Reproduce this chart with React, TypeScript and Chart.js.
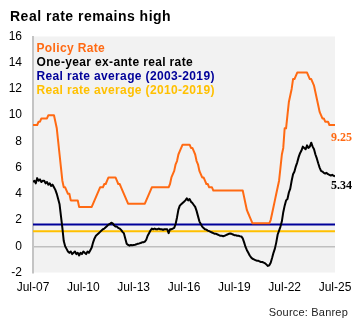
import React, { useEffect, useRef } from 'react';
import { Chart, registerables } from 'chart.js';

Chart.register(...registerables);

// ---- data (monthly, Jul-07 = month 0 ... Jul-25 = month 216) ----
const titleText = 'Real rate remains high';
const sourceText = 'Source: Banrep';
const xTickLabels = ['Jul-07', 'Jul-10', 'Jul-13', 'Jul-16', 'Jul-19', 'Jul-22', 'Jul-25'];
const monthsPerTick = 36;
const lastMonth = 216;
const yTicksMin = -2;
const yTicksMax = 16;
const yStep = 2;

const seriesNames = [
  'Policy Rate',
  'One-year ex-ante real rate',
  'Real rate average (2003-2019)',
  'Real rate average (2010-2019)',
];

const policyRate = [
  9.25, 9.25, 9.25, 9.25, 9.5, 9.5, 9.75, 9.75, 9.75, 9.75, 9.75, 10.0,
  10.0, 10.0, 10.0, 10.0, 9.5, 9.0, 8.0, 7.0, 6.0, 5.0, 4.5, 4.5,
  4.25, 4.0, 4.0, 3.5, 3.5, 3.5, 3.5, 3.5, 3.5, 3.0, 3.0, 3.0,
  3.0, 3.0, 3.0, 3.0, 3.0, 3.0, 3.0, 3.25, 3.5, 3.75, 4.0, 4.25,
  4.5, 4.5, 4.5, 4.75, 4.75, 5.0, 5.25, 5.25, 5.25, 5.25, 5.25, 5.25,
  5.0, 4.75, 4.75, 4.5, 4.25, 4.0, 3.75, 3.5, 3.25, 3.25, 3.25, 3.25,
  3.25, 3.25, 3.25, 3.25, 3.25, 3.25, 3.25, 3.25, 3.25, 3.5, 3.75, 4.0,
  4.25, 4.5, 4.5, 4.5, 4.5, 4.5, 4.5, 4.5, 4.5, 4.5, 4.5, 4.5,
  4.5, 4.5, 4.75, 5.25, 5.5, 5.75, 6.25, 6.5, 7.0, 7.25, 7.5, 7.75,
  7.75, 7.75, 7.75, 7.75, 7.75, 7.5, 7.5, 7.25, 7.0, 6.5, 6.25, 5.75,
  5.5, 5.25, 5.25, 5.0, 4.75, 4.75, 4.5, 4.5, 4.5, 4.25, 4.25, 4.25,
  4.25, 4.25, 4.25, 4.25, 4.25, 4.25, 4.25, 4.25, 4.25, 4.25, 4.25, 4.25,
  4.25, 4.25, 4.25, 4.25, 4.25, 4.25, 4.25, 3.75, 3.25, 2.75, 2.5, 2.25,
  2.0, 1.75, 1.75, 1.75, 1.75, 1.75, 1.75, 1.75, 1.75, 1.75, 1.75, 1.75,
  1.75, 1.75, 2.0, 2.5, 3.0, 3.5, 4.0, 4.5, 5.0, 6.0, 7.0, 7.5,
  9.0, 9.0, 10.0, 11.0, 11.5, 12.0, 12.75, 12.75, 13.0, 13.25, 13.25, 13.25,
  13.25, 13.25, 13.25, 13.25, 13.25, 13.0, 12.75, 12.75, 12.5, 12.25, 11.75, 11.25,
  10.75, 10.25, 10.0, 9.75, 9.75, 9.5, 9.5, 9.5, 9.25, 9.25, 9.25, 9.25,
  9.25,
];

const realRate = [
  4.9, 5.0, 4.8, 5.2, 5.0, 5.1, 4.9, 5.0, 5.0, 4.8, 4.9, 4.7,
  4.8, 4.6, 4.7, 4.5, 4.3, 4.0, 3.6, 3.2, 2.3, 1.4, 0.4, 0.0,
  -0.2, -0.4, -0.5, -0.4, -0.6, -0.5, -0.4, -0.6, -0.5, -0.7, -0.5, -0.6,
  -0.4, -0.5, -0.6, -0.4, -0.5, -0.3, -0.1, 0.3, 0.6, 0.8, 0.9, 1.0,
  1.1, 1.2, 1.3, 1.35, 1.45, 1.55, 1.65, 1.7, 1.8, 1.75, 1.6, 1.5,
  1.5, 1.4, 1.35, 1.25, 1.1, 1.0, 0.6, 0.2, 0.1, 0.05, 0.1, 0.08,
  0.1, 0.12, 0.15, 0.2, 0.22, 0.25, 0.3, 0.3, 0.35, 0.5, 0.8, 1.0,
  1.2, 1.35, 1.3, 1.35, 1.3, 1.3, 1.35, 1.3, 1.3, 1.25, 1.3, 1.3,
  1.3, 1.0, 1.3, 1.3, 1.35, 1.4, 1.7, 2.2, 2.8, 3.1, 3.2, 3.3,
  3.4, 3.5, 3.65, 3.5, 3.6, 3.4, 3.3, 3.15, 3.0, 2.7, 2.3, 1.9,
  1.7, 1.5, 1.4, 1.3, 1.27, 1.2, 1.15, 1.1, 1.05, 1.0, 0.95, 0.95,
  0.9, 0.85, 0.8, 0.8, 0.77, 0.8, 0.85, 0.9, 0.95, 0.97, 0.95, 0.9,
  0.85, 0.85, 0.8, 0.8, 0.77, 0.75, 0.6, 0.3, -0.05, -0.3, -0.5, -0.7,
  -0.85, -0.95, -1.0, -1.05, -1.1, -1.1, -1.15, -1.2, -1.2, -1.25, -1.3, -1.4,
  -1.5, -1.45, -1.25, -0.9, -0.5, -0.18, 0.3, 0.9, 1.2, 1.5, 1.9, 2.6,
  3.1, 3.5, 3.6, 4.1, 4.4, 5.0, 5.5, 5.7, 6.1, 6.4, 6.8, 7.1,
  7.3, 7.6, 7.5, 7.4, 7.7, 7.5, 7.6, 7.9, 7.6, 7.4, 7.0, 6.7,
  6.33, 6.0, 5.75, 5.7, 5.6, 5.55, 5.6, 5.5, 5.45, 5.4, 5.45, 5.38,
  5.34,
];

const avgReal2003to2019 = 1.66;
const avgReal2010to2019 = 1.15;

const endLabels = ['9.25', '5.34'];

// ---- styles ----
const COLORS = ['#FF6A13', '#000000', '#000099', '#FFC000'];
const SANS = '"Liberation Sans", Arial, sans-serif';
const SERIF = '"Liberation Serif", "Times New Roman", serif';

const decorPlugin = {
  id: 'decor',
  beforeDraw(chart: any) {
    const { ctx, chartArea: a } = chart;
    ctx.save();
    ctx.fillStyle = '#ffffff';
    ctx.fillRect(0, 0, chart.width, chart.height);
    ctx.fillStyle = '#f2f2f2';
    ctx.fillRect(a.left, a.top, a.right - a.left, a.bottom - a.top);
    ctx.restore();
  },
  afterDraw(chart: any) {
    const { ctx, chartArea: a } = chart;
    const yScale = chart.scales.y;
    ctx.save();
    // title
    ctx.font = `bold 14px ${SANS}`;
    (ctx as any).letterSpacing = '0.5px';
    ctx.fillStyle = '#000000';
    ctx.textAlign = 'left';
    ctx.textBaseline = 'alphabetic';
    ctx.fillText(titleText, 10, 21);

    // legend (text only)
    ctx.font = `bold 12px ${SANS}`;
    (ctx as any).letterSpacing = '0.35px';
    ctx.textBaseline = 'middle';
    seriesNames.forEach((name, i) => {
      ctx.fillStyle = COLORS[i];
      ctx.fillText(name, a.left + 3.5, 48.5 + i * 14.2);
    });

    // end labels
    (ctx as any).letterSpacing = '0px';
    ctx.font = `bold 12px ${SERIF}`;
    ctx.textAlign = 'left';
    const lastP = policyRate[policyRate.length - 1];
    const lastR = realRate[realRate.length - 1];
    ctx.fillStyle = COLORS[0];
    ctx.fillText(endLabels[0], a.right - 4, yScale.getPixelForValue(lastP) + 13);
    ctx.fillStyle = COLORS[1];
    ctx.fillText(endLabels[1], a.right - 4, yScale.getPixelForValue(lastR) + 10);

    // source
    ctx.font = `11px ${SANS}`;
    (ctx as any).letterSpacing = '0.2px';
    ctx.fillStyle = '#222222';
    ctx.textAlign = 'right';
    ctx.fillText(sourceText, 348, 313);
    ctx.restore();
  },
};

export default function App() {
  const ref = useRef<HTMLCanvasElement | null>(null);

  useEffect(() => {
    if (!ref.current) return;
    const toPoints = (arr: number[]) => arr.map((v, i) => ({ x: i, y: v }));
    const flat = (v: number) => [
      { x: 0, y: v },
      { x: lastMonth, y: v },
    ];
    const chart = new Chart(ref.current, {
      type: 'line',
      data: {
        datasets: [
          { label: seriesNames[0], data: toPoints(policyRate), borderColor: COLORS[0], borderWidth: 2 },
          { label: seriesNames[1], data: toPoints(realRate), borderColor: COLORS[1], borderWidth: 2 },
          { label: seriesNames[2], data: flat(avgReal2003to2019), borderColor: COLORS[2], borderWidth: 2 },
          { label: seriesNames[3], data: flat(avgReal2010to2019), borderColor: COLORS[3], borderWidth: 2 },
        ],
      },
      options: {
        responsive: false,
        animation: false,
        devicePixelRatio: 1,
        parsing: false,
        elements: { point: { radius: 0 }, line: { tension: 0, borderJoinStyle: 'round' } },
        layout: { padding: { top: 36.5, right: 25, left: 0, bottom: 0 } },
        plugins: { legend: { display: false }, tooltip: { enabled: false }, title: { display: false } },
        scales: {
          x: {
            type: 'linear',
            min: 0,
            max: lastMonth,
            afterFit: (s: any) => {
              s.height = 51.5;
            },
            grid: { display: false, drawTicks: false },
            border: { display: false },
            ticks: {
              stepSize: monthsPerTick,
              autoSkip: false,
              maxRotation: 0,
              padding: 8,
              color: '#000000',
              font: { family: SANS, size: 12 },
              callback: (v: any) => xTickLabels[Math.round(Number(v) / monthsPerTick)] ?? '',
            },
          },
          y: {
            min: yTicksMin,
            max: yTicksMax,
            afterFit: (s: any) => {
              s.width = 33;
            },
            grid: {
              drawTicks: false,
              lineWidth: 1.5,
              color: (c: any) => (c.tick && c.tick.value === 0 ? '#bfbfbf' : 'rgba(0,0,0,0)'),
            },
            border: { display: true, color: '#c4c4c4', width: 2 },
            ticks: {
              stepSize: yStep,
              padding: 11,
              color: '#000000',
              font: { family: SANS, size: 12 },
            },
          },
        },
      },
      plugins: [decorPlugin],
    } as any);
    return () => chart.destroy();
  }, []);

  return (
    <div style={{ position: 'absolute', left: 0, top: 0, width: 360, height: 324, background: '#fff' }}>
      <canvas ref={ref} width={360} height={324} style={{ display: 'block', width: 360, height: 324 }} />
    </div>
  );
}
